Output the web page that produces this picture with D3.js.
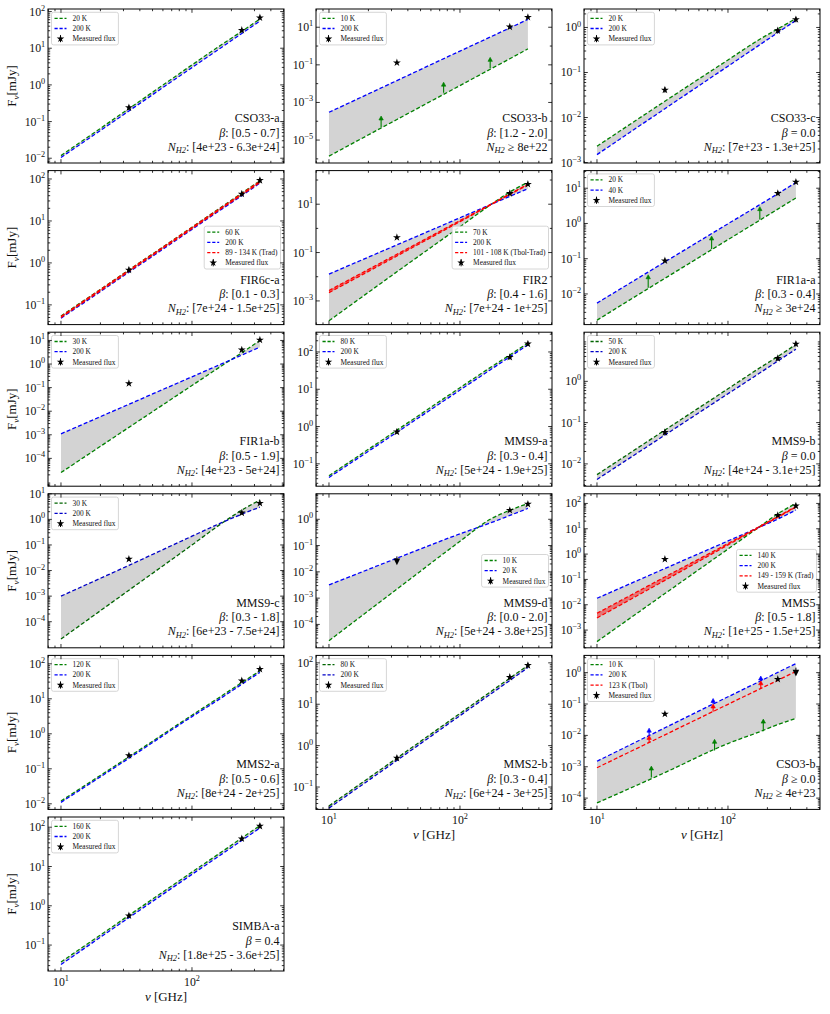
<!DOCTYPE html>
<html>
<head>
<meta charset="utf-8">
<script src="https://cdn.jsdelivr.net/npm/d3@7/dist/d3.min.js"></script>
<style>
  body { margin: 0; background: #fff; }
  svg text { font-family: "Liberation Serif", "DejaVu Serif", serif; white-space: pre; }
</style>
</head>
<body>
<script>
const nuGrid = [10, 33, 100, 170, 240, 330];

// CSO33-a
const cso33a_g   = [0.0118, 0.225, 3.5, 12.8, 29, 63];
const cso33a_b   = [0.0105, 0.195, 2.96, 10.8, 25.3, 55];
const cso33a_obs = [[33, 0.24], [240, 31], [330, 68]];
// CSO33-b
const cso33b_g   = [1.4e-6, 1.24e-4, 7.9e-3, 0.058, 0.21, 0.71];
const cso33b_b   = [3e-4, 0.0146, 0.54, 3.0, 9.2, 26];
const cso33b_obs = [[33, 0.13], [240, 10.5], [330, 34]];
const cso33b_up  = [[25, 4.8e-5, 1.9e-4], [75, 3.3e-3, 0.012], [170, 0.065, 0.25]];
// CSO33-c
const cso33c_g   = [2.3e-3, 0.023, 0.19, 0.52, 0.93, 1.58];
const cso33c_b   = [1.5e-3, 0.0157, 0.138, 0.39, 0.77, 1.43];
const cso33c_obs = [[33, 0.041], [240, 0.85], [330, 1.5]];
// FIR6c-a
const fir6ca_g   = [0.054, 0.68, 7.1, 22, 46, 90];
const fir6ca_b   = [0.048, 0.6, 6.3, 19.4, 40, 80];
const fir6ca_rHi = [0.053, 0.67, 7.0, 21.6, 45, 88];
const fir6ca_rLo = [0.050, 0.63, 6.6, 20.3, 42, 83];
const fir6ca_obs = [[33, 0.68], [240, 44], [330, 93]];
// FIR2
const fir2_g     = [1.5e-4, 0.016, 1.17, 9.2, 32, 80];
const fir2_b     = [0.0129, 0.208, 2.75, 9.5, 21, 44];
const fir2_rHi   = [2.7e-3, 0.085, 2.1, 9.6, 26.5, 67];
const fir2_rLo   = [2.2e-3, 0.072, 1.9, 9.2, 25, 63];
const fir2_obs   = [[33, 0.42], [240, 28], [330, 67]];
// FIR1a-a
const fir1aa_g   = [1.8e-3, 0.0277, 0.347, 1.16, 2.55, 5.3];
const fir1aa_b   = [5.5e-3, 0.081, 0.98, 3.2, 7.0, 14.5];
const fir1aa_obs = [[33, 0.088], [240, 7.2], [330, 15]];
const fir1aa_up  = [[24.6, 0.015, 0.035], [75, 0.19, 0.44], [175, 1.3, 3.0]];
// FIR1a-b
const fir1ab_g   = [2.5e-5, 2.06e-3, 0.123, 0.87, 3.0, 10];
const fir1ab_b   = [1.1e-3, 0.0197, 0.288, 1.04, 2.4, 5.2];
const fir1ab_obs = [[33, 0.15], [240, 4], [330, 10.5]];
// MMS9-a
const mms9a_g    = [0.048, 0.8, 11, 38, 83, 174];
const mms9a_b    = [0.043, 0.70, 9.5, 33, 74, 155];
const mms9a_obs  = [[33, 0.72], [240, 72], [330, 165]];
// MMS9-b
const mms9b_g    = [5.5e-3, 0.066, 0.66, 2.0, 4.0, 7.8];
const mms9b_b    = [4.2e-3, 0.05, 0.5, 1.5, 3.1, 6.0];
const mms9b_obs  = [[33, 0.058], [240, 3.6], [330, 8]];
// MMS9-c
const mms9c_g    = [2.1e-5, 1.7e-3, 0.1, 0.72, 2.3, 5.7];
const mms9c_b    = [1e-3, 0.016, 0.22, 0.76, 1.6, 3.0];
const mms9c_obs  = [[33, 0.028], [240, 1.8], [330, 4.3]];
// MMS9-d
const mms9d_g    = [2.4e-5, 2.2e-3, 0.145, 1.0, 2.2, 4.0];
const mms9d_b    = [3.2e-3, 0.033, 0.28, 0.72, 1.4, 2.6];
const mms9d_obs  = [[240, 2.2], [330, 3.8]];
const mms9d_lim  = [[33, 0.025]];
// MMS5
const mms5_g     = [3.5e-4, 0.0276, 1.58, 11, 39, 100];
const mms5_b     = [0.018, 0.27, 3.3, 11, 24, 55];
const mms5_rHi   = [4.6e-3, 0.125, 2.6, 11.5, 30, 76];
const mms5_rLo   = [3.0e-3, 0.092, 2.3, 10.8, 28.5, 72];
const mms5_obs   = [[33, 0.63], [240, 34], [330, 80]];
// MMS2-a
const mms2a_g    = [0.012, 0.22, 3.4, 12.4, 29, 63];
const mms2a_b    = [0.011, 0.20, 3.1, 11, 26, 57];
const mms2a_obs  = [[33, 0.24], [240, 33], [330, 70]];
// MMS2-b
const mms2b_g    = [0.035, 0.5, 6.0, 19.7, 42.6, 87];
const mms2b_b    = [0.031, 0.44, 5.3, 17.3, 37.5, 77];
const mms2b_obs  = [[33, 0.5], [240, 45], [330, 87]];
// CSO3-b
const cso3b_g    = [7e-5, 6.5e-4, 5.5e-3, 0.0125, 0.022, 0.035];
const cso3b_b    = [1.5e-3, 0.0175, 0.17, 0.5, 1.02, 1.95];
const cso3b_r    = [9.3e-4, 0.0104, 0.098, 0.285, 0.57, 1.09];
const cso3b_obs  = [[33, 0.048], [240, 0.62]];
const cso3b_lim  = [[330, 1.0]];
const cso3b_up   = [[26, 4.5e-4, 1.05e-3], [79, 3.3e-3, 7.5e-3], [186, 0.0135, 0.033]];
const cso3b_upR  = [[25, 5.9e-3, 0.01], [77, 0.057, 0.1], [178, 0.31, 0.55]];
const cso3b_upB  = [[25, 0.01, 0.017], [77, 0.1, 0.15], [178, 0.55, 0.78]];
// SIMBA-a
const simbaa_g   = [0.037, 0.57, 7.2, 24, 53, 110];
const simbaa_b   = [0.032, 0.50, 6.3, 21, 46, 96];
const simbaa_obs = [[33, 0.56], [240, 51], [330, 107]];

const obsErr = 0.15;   // relative flux error drawn on the measured points
const xDomain = [7.96, 504];

// panel table: layout slot, y range (log10), labelled decades, texts
const panels = [
  {id: 'CSO33-a', row: 0, col: 0, yLog: [-2.13, 2.07], yTicks: [-2, -1, 0, 1, 2],
   g: cso33a_g, b: cso33a_b, obs: cso33a_obs, tLo: '20 K', tHi: '200 K',
   beta: ': [0.5 - 0.7]', nh2: ': [4e+23 - 6.3e+24]'},
  {id: 'CSO33-b', row: 0, col: 1, yLog: [-6.22, 1.97], yTicks: [-5, -3, -1, 1],
   g: cso33b_g, b: cso33b_b, obs: cso33b_obs, up: cso33b_up, tLo: '10 K', tHi: '200 K',
   beta: ': [1.2 - 2.0]', nh2: ' \u2265 8e+22'},
  {id: 'CSO33-c', row: 0, col: 2, yLog: [-3.01, 0.41], yTicks: [-3, -2, -1, 0],
   g: cso33c_g, b: cso33c_b, obs: cso33c_obs, tLo: '20 K', tHi: '200 K',
   beta: ' = 0.0', nh2: ': [7e+23 - 1.3e+25]'},
  {id: 'FIR6c-a', row: 1, col: 0, yLog: [-1.47, 2.2], yTicks: [-1, 0, 1, 2],
   g: fir6ca_g, b: fir6ca_b, rHi: fir6ca_rHi, rLo: fir6ca_rLo, obs: fir6ca_obs,
   tLo: '60 K', tHi: '200 K', tRed: '89 - 134 K (Trad)', legendPos: 'cr',
   beta: ': [0.1 - 0.3]', nh2: ': [7e+24 - 1.5e+25]'},
  {id: 'FIR2', row: 1, col: 1, yLog: [-3.98, 2.39], yTicks: [-3, -1, 1],
   g: fir2_g, b: fir2_b, rHi: fir2_rHi, rLo: fir2_rLo, obs: fir2_obs,
   tLo: '70 K', tHi: '200 K', tRed: '101 - 108 K (Tbol-Trad)', legendPos: 'cr',
   beta: ': [0.4 - 1.6]', nh2: ': [7e+24 - 1e+25]'},
  {id: 'FIR1a-a', row: 1, col: 2, yLog: [-2.87, 1.5], yTicks: [-2, -1, 0, 1],
   g: fir1aa_g, b: fir1aa_b, obs: fir1aa_obs, up: fir1aa_up, tLo: '20 K', tHi: '40 K',
   beta: ': [0.3 - 0.4]', nh2: ' \u2265 3e+24'},
  {id: 'FIR1a-b', row: 2, col: 0, yLog: [-5.18, 1.35], yTicks: [-4, -3, -2, -1, 0, 1],
   g: fir1ab_g, b: fir1ab_b, obs: fir1ab_obs, tLo: '30 K', tHi: '200 K',
   beta: ': [0.5 - 1.9]', nh2: ': [4e+23 - 5e+24]'},
  {id: 'MMS9-a', row: 2, col: 1, yLog: [-1.6, 2.53], yTicks: [-1, 0, 1, 2],
   g: mms9a_g, b: mms9a_b, obs: mms9a_obs, tLo: '80 K', tHi: '200 K',
   beta: ': [0.3 - 0.4]', nh2: ': [5e+24 - 1.9e+25]'},
  {id: 'MMS9-b', row: 2, col: 2, yLog: [-2.54, 1.19], yTicks: [-2, -1, 0],
   g: mms9b_g, b: mms9b_b, obs: mms9b_obs, tLo: '50 K', tHi: '200 K', dark: true,
   beta: ' = 0.0', nh2: ': [4e+24 - 3.1e+25]'},
  {id: 'MMS9-c', row: 3, col: 0, yLog: [-5.02, 1.0], yTicks: [-4, -3, -2, -1, 0, 1],
   g: mms9c_g, b: mms9c_b, obs: mms9c_obs, tLo: '30 K', tHi: '200 K', dark: true,
   beta: ': [0.3 - 1.8]', nh2: ': [6e+23 - 7.5e+24]'},
  {id: 'MMS9-d', row: 3, col: 1, yLog: [-4.89, 0.97], yTicks: [-4, -3, -2, -1, 0],
   g: mms9d_g, b: mms9d_b, obs: mms9d_obs, lim: mms9d_lim, tLo: '10 K', tHi: '20 K',
   legendPos: 'cr', beta: ': [0.0 - 2.0]', nh2: ': [5e+24 - 3.8e+25]'},
  {id: 'MMS5', row: 3, col: 2, yLog: [-3.7, 2.38], yTicks: [-3, -2, -1, 0, 1, 2],
   g: mms5_g, b: mms5_b, rHi: mms5_rHi, rLo: mms5_rLo, obs: mms5_obs,
   tLo: '140 K', tHi: '200 K', tRed: '149 - 159 K (Trad)', legendPos: 'cr',
   beta: ': [0.5 - 1.8]', nh2: ': [1e+25 - 1.5e+25]'},
  {id: 'MMS2-a', row: 4, col: 0, yLog: [-2.16, 2.24], yTicks: [-2, -1, 0, 1, 2],
   g: mms2a_g, b: mms2a_b, obs: mms2a_obs, tLo: '120 K', tHi: '200 K',
   beta: ': [0.5 - 0.6]', nh2: ': [8e+24 - 2e+25]'},
  {id: 'MMS2-b', row: 4, col: 1, yLog: [-1.54, 2.18], yTicks: [-1, 0, 1, 2], xLabels: true,
   g: mms2b_g, b: mms2b_b, obs: mms2b_obs, tLo: '80 K', tHi: '200 K', dark: true,
   beta: ': [0.3 - 0.4]', nh2: ': [6e+24 - 3e+25]'},
  {id: 'CSO3-b', row: 4, col: 2, yLog: [-4.36, 0.55], yTicks: [-4, -3, -2, -1, 0], xLabels: true,
   g: cso3b_g, b: cso3b_b, rHi: cso3b_r, obs: cso3b_obs, lim: cso3b_lim,
   up: cso3b_up, upR: cso3b_upR, upB: cso3b_upB,
   tLo: '10 K', tHi: '200 K', tRed: '123 K (Tbol)',
   beta: ' \u2265 0.0', nh2: ' \u2265 4e+23'},
  {id: 'SIMBA-a', row: 5, col: 0, yLog: [-1.66, 2.26], yTicks: [-1, 0, 1, 2], xLabels: true,
   g: simbaa_g, b: simbaa_b, obs: simbaa_obs, tLo: '160 K', tHi: '200 K',
   beta: ' = 0.4', nh2: ': [1.8e+25 - 3.6e+25]'}
];

const colLeft = [48, 316, 584];
const rowTop  = [9, 170.6, 332.2, 493.8, 655.4, 817];
const pw = 236, ph = 154;
const GREEN = '#008000', BLUE = '#0000ff', RED = '#ff0000';
const DASH = '4,2.2';
const TICKFS = 11.8;

const svg = d3.select('body').append('svg')
    .attr('width', 830).attr('height', 1014);

function expLabel(sel, e, fs) {
    sel.append('tspan').text('10');
    sel.append('tspan').attr('dy', -fs * 0.42).attr('font-size', fs * 0.7)
        .text(e < 0 ? '\u2212' + (-e) : String(e));
}

function drawArrow(g, x, y, a, color) {
    const px = x(a[0]), y0 = y(a[1]), y1 = y(a[2]);
    g.append('line').attr('x1', px).attr('x2', px).attr('y1', y0).attr('y2', y1 + 3)
        .attr('stroke', color).attr('stroke-width', 1.1);
    g.append('path')
        .attr('d', `M${px - 2.2},${y1 + 4} L${px},${y1} L${px + 2.2},${y1 + 4} Z`)
        .attr('fill', color).attr('stroke', color).attr('stroke-width', 0.6);
}

function drawStar(g, px, py) {
    g.append('line').attr('x1', px).attr('x2', px).attr('y1', py - 3.5).attr('y2', py + 3.5)
        .attr('stroke', '#000').attr('stroke-width', 1);
    g.append('path').attr('d', d3.symbol(d3.symbolStar, 18)())
        .attr('transform', `translate(${px},${py})`).attr('fill', '#000');
}

panels.forEach((p, pi) => {
    const g = svg.append('g')
        .attr('transform', `translate(${colLeft[p.col]},${rowTop[p.row]})`);

    const x = d3.scaleLog().domain(xDomain).range([0, pw]);
    const y = d3.scaleLog().domain([10 ** p.yLog[0], 10 ** p.yLog[1]]).range([ph, 0]);
    const cg = p.dark ? '#006400' : GREEN;
    const cb = p.dark ? '#0000c8' : BLUE;

    g.append('clipPath').attr('id', 'clip' + pi)
      .append('rect').attr('width', pw).attr('height', ph);
    const plot = g.append('g').attr('clip-path', `url(#clip${pi})`);

    // gray band between the two temperature curves
    const band = (lo, hi) => d3.area()
        .x((d, i) => x(nuGrid[i]))
        .y0((d, i) => y(lo[i]))
        .y1((d, i) => y(hi[i]))
        .curve(d3.curveMonotoneX)(nuGrid);
    plot.append('path').attr('d', band(p.g, p.b)).attr('fill', '#d3d3d3');

    const line = d3.line()
        .x((d, i) => x(nuGrid[i]))
        .y(d => y(d))
        .curve(d3.curveMonotoneX);

    plot.append('path').datum(p.g).attr('d', line)
        .attr('fill', 'none').attr('stroke', cg).attr('stroke-width', 1.3).attr('stroke-dasharray', DASH);
    plot.append('path').datum(p.b).attr('d', line)
        .attr('fill', 'none').attr('stroke', cb).attr('stroke-width', 1.3).attr('stroke-dasharray', DASH);

    if (p.rLo) {
        plot.append('path').attr('d', band(p.rLo, p.rHi)).attr('fill', RED).attr('fill-opacity', 0.45);
        plot.append('path').datum(p.rLo).attr('d', line)
            .attr('fill', 'none').attr('stroke', RED).attr('stroke-width', 1.3).attr('stroke-dasharray', DASH);
    }
    if (p.rHi) {
        plot.append('path').datum(p.rHi).attr('d', line)
            .attr('fill', 'none').attr('stroke', RED).attr('stroke-width', 1.3).attr('stroke-dasharray', DASH);
    }

    // lower-limit arrows
    (p.up || []).forEach(a => drawArrow(plot, x, y, a, cg));
    (p.upR || []).forEach(a => drawArrow(plot, x, y, a, RED));
    (p.upB || []).forEach(a => drawArrow(plot, x, y, a, cb));

    // measured fluxes
    p.obs.forEach(o => {
        const px = x(o[0]);
        plot.append('line').attr('x1', px).attr('x2', px)
            .attr('y1', y(o[1] * (1 + obsErr))).attr('y2', y(o[1] / (1 + obsErr)))
            .attr('stroke', '#000').attr('stroke-width', 1);
        plot.append('path').attr('d', d3.symbol(d3.symbolStar, 19)())
            .attr('transform', `translate(${px},${y(o[1])})`).attr('fill', '#000');
    });
    // upper limits
    (p.lim || []).forEach(o => {
        const px = x(o[0]), py = y(o[1]);
        plot.append('line').attr('x1', px).attr('x2', px).attr('y1', py - 5).attr('y2', py)
            .attr('stroke', '#000').attr('stroke-width', 1);
        plot.append('path').attr('d', `M${px - 3.3},${py - 3} L${px + 3.3},${py - 3} L${px},${py + 3.8} Z`)
            .attr('fill', '#000');
    });

    // annotation, bottom right
    const ax = pw - 4.5;
    const ann = g.append('g').attr('font-size', 12).attr('fill', '#111').attr('text-anchor', 'end');
    ann.append('text').attr('x', ax).attr('y', ph - 41).text(p.id);
    const t2 = ann.append('text').attr('x', ax).attr('y', ph - 26.5);
    t2.append('tspan').attr('font-style', 'italic').text('\u03b2');
    t2.append('tspan').text(p.beta);
    const t3 = ann.append('text').attr('x', ax).attr('y', ph - 12.5);
    t3.append('tspan').attr('font-style', 'italic').text('N');
    t3.append('tspan').attr('font-style', 'italic').attr('font-size', 8.4).attr('dy', 2.5).text('H2');
    t3.append('tspan').attr('dy', -2.5).text(p.nh2);

    // legend
    const entries = [
        {kind: 'line', color: cg, label: p.tLo},
        {kind: 'line', color: cb, label: p.tHi}
    ];
    if (p.tRed) entries.push({kind: 'line', color: RED, label: p.tRed});
    entries.push({kind: 'obs', label: 'Measured flux'});

    const fs = 7.4, rowH = 10.2, textX = 21;
    const lg = g.append('g');
    const box = lg.append('rect').attr('rx', 2).attr('ry', 2)
        .attr('fill', '#fff').attr('fill-opacity', 0.85)
        .attr('stroke', '#cccccc').attr('stroke-width', 0.8);
    let maxW = 0;
    entries.forEach((e, i) => {
        const cy = 6 + i * rowH;
        if (e.kind === 'line') {
            lg.append('line').attr('x1', 3).attr('x2', 15).attr('y1', cy).attr('y2', cy)
                .attr('stroke', e.color).attr('stroke-width', 1.3).attr('stroke-dasharray', '3.2,1.8');
        } else {
            drawStar(lg, 9, cy);
        }
        const t = lg.append('text').attr('x', textX).attr('y', cy + 2.6)
            .attr('font-size', fs).attr('fill', '#111').text(e.label);
        maxW = Math.max(maxW, t.node().getComputedTextLength());
    });
    const bw = textX + maxW + 3, bh = entries.length * rowH + 2;
    box.attr('x', 0).attr('y', 0).attr('width', bw).attr('height', bh);
    if (p.legendPos === 'cr') {
        lg.attr('transform', `translate(${pw - bw - 3.5},${(ph - bh) / 2})`);
    } else {
        lg.attr('transform', 'translate(3.5,3.3)');
    }

    // ticks, all four sides, pointing inward
    const tk = g.append('g').attr('stroke', '#000').attr('stroke-width', 0.8);
    const xMajor = [10, 100];
    const xMinor = [8, 9, 20, 30, 40, 50, 60, 70, 80, 90, 200, 300, 400, 500]
        .filter(v => v >= xDomain[0] && v <= xDomain[1]);
    const xTick = (v, len) => {
        const px = x(v);
        tk.append('line').attr('x1', px).attr('x2', px).attr('y1', ph).attr('y2', ph - len);
        tk.append('line').attr('x1', px).attr('x2', px).attr('y1', 0).attr('y2', len);
    };
    xMajor.forEach(v => xTick(v, 3.8));
    xMinor.forEach(v => xTick(v, 2.2));

    const yTick = (v, len) => {
        const py = y(v);
        tk.append('line').attr('x1', 0).attr('x2', len).attr('y1', py).attr('y2', py);
        tk.append('line').attr('x1', pw).attr('x2', pw - len).attr('y1', py).attr('y2', py);
    };
    const inY = v => Math.log10(v) >= p.yLog[0] - 0.005 && Math.log10(v) <= p.yLog[1] + 0.005;
    const step = p.yTicks.length > 1 ? p.yTicks[1] - p.yTicks[0] : 1;
    p.yTicks.forEach(e => yTick(10 ** e, 3.8));
    for (let e = Math.floor(p.yLog[0]); e <= Math.ceil(p.yLog[1]); e++) {
        if (step === 1) {
            for (let k = 2; k <= 9; k++) {
                const v = k * 10 ** e;
                if (inY(v)) yTick(v, 2.2);
            }
        } else if (!p.yTicks.includes(e) && inY(10 ** e)) {
            yTick(10 ** e, 2.2);
        }
    }

    // y tick labels
    const yl = g.append('g').attr('font-size', TICKFS).attr('fill', '#111').attr('text-anchor', 'end');
    p.yTicks.forEach(e => {
        const t = yl.append('text').attr('x', -2.8).attr('y', y(10 ** e) + 4);
        expLabel(t, e, TICKFS);
    });

    // x tick labels and axis title on the bottom panel of each column
    if (p.xLabels) {
        const xl = g.append('g').attr('font-size', TICKFS).attr('fill', '#111').attr('text-anchor', 'middle');
        xMajor.forEach(v => {
            const t = xl.append('text').attr('x', x(v)).attr('y', ph + 14.5);
            expLabel(t, Math.round(Math.log10(v)), TICKFS);
        });
        const xt = g.append('text').attr('x', pw / 2).attr('y', ph + 29.5)
            .attr('text-anchor', 'middle').attr('font-size', 13).attr('fill', '#111');
        xt.append('tspan').attr('font-style', 'italic').text('\u03bd');
        xt.append('tspan').text(' [GHz]');
    }

    // y axis title on the left column
    if (p.col === 0) {
        const yt = svg.append('text')
            .attr('transform', `translate(${colLeft[0] - 32},${rowTop[p.row] + ph / 2}) rotate(-90)`)
            .attr('text-anchor', 'middle').attr('font-size', 13).attr('fill', '#111');
        yt.append('tspan').text('F');
        yt.append('tspan').attr('font-style', 'italic').attr('font-size', 9.2).attr('dy', 2.5).text('\u03bd');
        yt.append('tspan').attr('dy', -2.5).text('[mJy]');
    }

    // frame
    g.append('rect').attr('width', pw).attr('height', ph)
        .attr('fill', 'none').attr('stroke', '#000').attr('stroke-width', 1);
});
</script>
</body>
</html>
